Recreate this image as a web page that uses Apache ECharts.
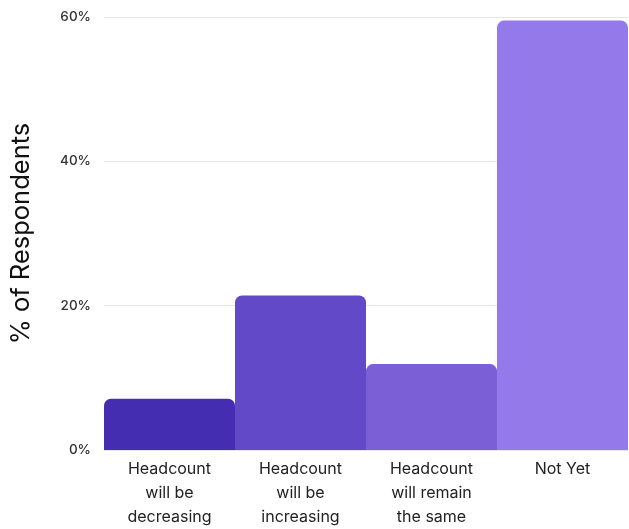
<!DOCTYPE html>
<html>
<head>
<meta charset="utf-8">
<script src="https://cdn.jsdelivr.net/npm/echarts@6/dist/echarts.min.js"></script>
<style>
html,body{margin:0;padding:0;background:#fff;}
#chart{width:629px;height:529px;}
</style>
</head>
<body>
<div id="chart"></div>
<script>
const categories = ["Headcount\nwill be\ndecreasing", "Headcount\nwill be\nincreasing", "Headcount\nwill remain\nthe same", "Not Yet"];
const values = [7.1, 21.4, 11.9, 59.5];
const barColors = ["#442DB1", "#6249C7", "#7B5FD7", "#9479EB"];
const yTicks = [0, 20, 40, 60];

const chart = echarts.init(document.getElementById('chart'));
chart.setOption({
  animation: false,
  backgroundColor: '#ffffff',
  grid: { left: 104, right: 1, top: 17, bottom: 77 },
  xAxis: {
    type: 'category',
    data: categories,
    axisLine: { show: false },
    axisTick: { show: false },
    axisLabel: {
      color: '#222',
      fontFamily: 'Inter',
      fontSize: 16,
      lineHeight: 24,
      margin: 7,
      interval: 0
    }
  },
  yAxis: {
    type: 'value',
    min: yTicks[0],
    max: yTicks[yTicks.length - 1],
    interval: 20,
    name: '% of Respondents',
    nameLocation: 'middle',
    nameGap: 70,
    nameTextStyle: { color: '#111', fontFamily: 'Inter', fontSize: 25.5 },
    axisLine: { show: false },
    axisTick: { show: false },
    axisLabel: {
      formatter: '{value}%',
      color: '#333',
      fontFamily: 'Inter',
      fontWeight: 500,
      fontSize: 13.5,
      margin: 13
    },
    splitLine: { lineStyle: { color: '#e6e6e6', width: 1 } }
  },
  series: [{
    type: 'bar',
    data: values.map((v, i) => ({ value: v, itemStyle: { color: barColors[i] } })),
    barCategoryGap: '0%',
    barWidth: '100%',
    itemStyle: { borderRadius: [7, 7, 0, 0] }
  }]
});
</script>
</body>
</html>
